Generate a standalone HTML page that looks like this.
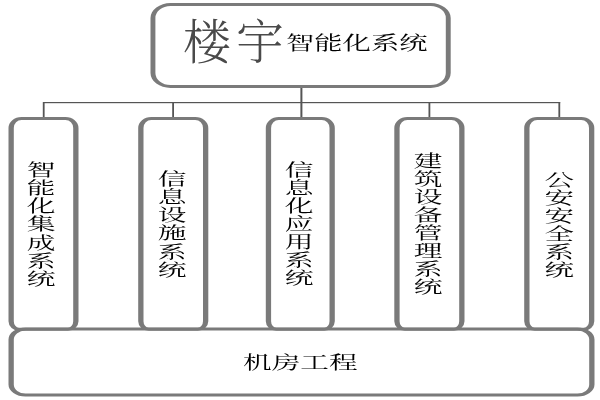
<!DOCTYPE html>
<html lang="zh-CN">
<head>
<meta charset="utf-8">
<title>楼宇智能化系统</title>
<style>
html,body{margin:0;padding:0;background:#fff;}
body{width:600px;height:400px;position:relative;overflow:hidden;font-family:"Liberation Serif","Noto Serif CJK SC",serif;color:#000;font-weight:400;}
svg{position:absolute;left:0;top:0;}
.vt{will-change:transform;position:absolute;width:1.4em;word-break:break-all;text-align:center;transform-origin:50% 0;white-space:normal;}
.ht{will-change:transform;position:absolute;white-space:nowrap;transform-origin:0 50%;line-height:1;}
</style>
</head>
<body>
<svg width="600" height="400" viewBox="0 0 600 400">
<rect x="43" y="102" width="517.2" height="1.2" fill="#555"/>
<rect x="42.80" y="102" width="1.8" height="16.2" fill="#555"/>
<rect x="172.20" y="102" width="1.8" height="16.2" fill="#555"/>
<rect x="428.50" y="102" width="1.8" height="16.2" fill="#555"/>
<rect x="558.40" y="102" width="1.8" height="16.2" fill="#555"/>
<rect x="300.40" y="86" width="2" height="32" fill="#555"/>
<path d="M170.50 3.00H430.70A20.00 15.00 0 0 1 450.70 18.00V73.00A20.00 15.00 0 0 1 430.70 88.00H170.50A20.00 15.00 0 0 1 150.50 73.00V18.00A20.00 15.00 0 0 1 170.50 3.00ZM170.50 6.00H430.70A15.10 12.00 0 0 1 445.80 18.00V73.00A15.10 12.00 0 0 1 430.70 85.00H170.50A15.10 12.00 0 0 1 155.40 73.00V18.00A15.10 12.00 0 0 1 170.50 6.00Z" fill="#7a7a7a" fill-rule="evenodd"/>
<path d="M21.50 117.00H65.50A13.00 11.00 0 0 1 78.50 128.00V321.20A10.50 9.50 0 0 1 68.00 330.70H19.00A10.50 9.50 0 0 1 8.50 321.20V128.00A13.00 11.00 0 0 1 21.50 117.00ZM21.50 120.00H65.50A7.70 8.00 0 0 1 73.20 128.00V321.20A5.20 6.50 0 0 1 68.00 327.70H19.00A5.20 6.50 0 0 1 13.80 321.20V128.00A7.70 8.00 0 0 1 21.50 120.00Z" fill="#7a7a7a" fill-rule="evenodd"/>
<path d="M151.20 117.00H195.30A13.00 11.00 0 0 1 208.30 128.00V321.20A10.50 9.50 0 0 1 197.80 330.70H148.70A10.50 9.50 0 0 1 138.20 321.20V128.00A13.00 11.00 0 0 1 151.20 117.00ZM151.20 120.00H195.30A7.70 8.00 0 0 1 203.00 128.00V321.20A5.20 6.50 0 0 1 197.80 327.70H148.70A5.20 6.50 0 0 1 143.50 321.20V128.00A7.70 8.00 0 0 1 151.20 120.00Z" fill="#7a7a7a" fill-rule="evenodd"/>
<path d="M278.80 117.00H321.80A13.00 11.00 0 0 1 334.80 128.00V321.20A10.50 9.50 0 0 1 324.30 330.70H276.30A10.50 9.50 0 0 1 265.80 321.20V128.00A13.00 11.00 0 0 1 278.80 117.00ZM278.80 120.00H321.80A7.70 8.00 0 0 1 329.50 128.00V321.20A5.20 6.50 0 0 1 324.30 327.70H276.30A5.20 6.50 0 0 1 271.10 321.20V128.00A7.70 8.00 0 0 1 278.80 120.00Z" fill="#7a7a7a" fill-rule="evenodd"/>
<path d="M407.30 117.00H451.50A13.00 11.00 0 0 1 464.50 128.00V321.20A10.50 9.50 0 0 1 454.00 330.70H404.80A10.50 9.50 0 0 1 394.30 321.20V128.00A13.00 11.00 0 0 1 407.30 117.00ZM407.30 120.00H451.50A7.70 8.00 0 0 1 459.20 128.00V321.20A5.20 6.50 0 0 1 454.00 327.70H404.80A5.20 6.50 0 0 1 399.60 321.20V128.00A7.70 8.00 0 0 1 407.30 120.00Z" fill="#7a7a7a" fill-rule="evenodd"/>
<path d="M537.20 117.00H581.30A13.00 11.00 0 0 1 594.30 128.00V321.20A10.50 9.50 0 0 1 583.80 330.70H534.70A10.50 9.50 0 0 1 524.20 321.20V128.00A13.00 11.00 0 0 1 537.20 117.00ZM537.20 120.00H581.30A7.70 8.00 0 0 1 589.00 128.00V321.20A5.20 6.50 0 0 1 583.80 327.70H534.70A5.20 6.50 0 0 1 529.50 321.20V128.00A7.70 8.00 0 0 1 537.20 120.00Z" fill="#7a7a7a" fill-rule="evenodd"/>
<path d="M25.50 327.50H577.50A17.00 12.00 0 0 1 594.50 339.50V384.60A17.00 12.00 0 0 1 577.50 396.60H25.50A17.00 12.00 0 0 1 8.50 384.60V339.50A17.00 12.00 0 0 1 25.50 327.50ZM25.50 330.50H577.50A11.70 9.00 0 0 1 589.20 339.50V384.60A11.70 9.00 0 0 1 577.50 393.60H25.50A11.70 9.00 0 0 1 13.80 384.60V339.50A11.70 9.00 0 0 1 25.50 330.50Z" fill="#7a7a7a" fill-rule="evenodd"/>
</svg>
<div class="ht" id="t1" style="left:183px;top:19px;font-size:48px;font-weight:300;letter-spacing:5px;color:#4a4a4a;">楼宇</div>
<div class="ht" id="t2" style="left:285.8px;top:33.7px;font-size:19px;transform:scaleX(1.49);">智能化系统</div>
<div class="ht" id="t3" style="left:243px;top:353.6px;font-size:18.5px;transform:scaleX(1.55);">机房工程</div>

<div class="vt" id="v1" style="left:29.40px;top:160.8px;font-size:17.5px;line-height:18.15px;transform:scaleX(1.645);">智能化集成系统</div>
<div class="vt" id="v2" style="left:159.50px;top:170.2px;font-size:17.5px;line-height:18.15px;transform:scaleX(1.645);">信息设施系统</div>
<div class="vt" id="v3" style="left:286.60px;top:161.2px;font-size:17.5px;line-height:18px;transform:scaleX(1.645);">信息化应用系统</div>
<div class="vt" id="v4" style="left:416.30px;top:152.4px;font-size:17.5px;line-height:18.05px;transform:scaleX(1.645);">建筑设备管理系统</div>
<div class="vt" id="v5" style="left:547.00px;top:170.5px;font-size:17.5px;line-height:18.1px;transform:scaleX(1.685);">公安安全系统</div>
</body>
</html>
